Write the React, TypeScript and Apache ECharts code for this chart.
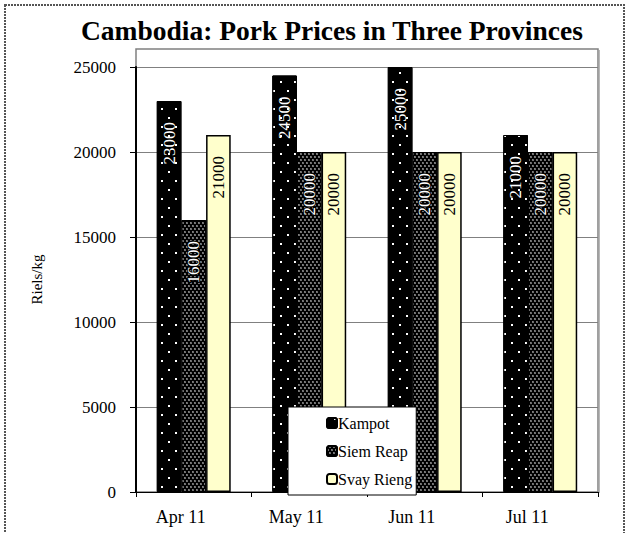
import React, { useEffect, useRef } from "react";
import * as echarts from "echarts";

const categories = ["Apr 11", "May 11", "Jun 11", "Jul 11"];
const kampot = [23000, 24500, 25000, 21000];
const siemReap = [16000, 20000, 20000, 20000];
const svayRieng = [21000, 20000, 20000, 20000];
const seriesNames = ["Kampot", "Siem Reap", "Svay Rieng"];

const FONT = "'Liberation Serif', 'Times New Roman', serif";

export default function App() {
  const ref = useRef<HTMLDivElement>(null);
  useEffect(() => {
    if (!ref.current) return;
    const chart = echarts.init(ref.current, null, { renderer: "svg" });
    const labelBase = {
      show: true,
      position: "insideTop",
      rotate: 90,
      align: "right",
      verticalAlign: "middle",
      distance: 21,
      fontSize: 17,
      fontFamily: FONT,
    };
    chart.setOption({
      animation: false,
      backgroundColor: "#fff",
      textStyle: { fontFamily: FONT, color: "#000" },
      title: {
        text: "Cambodia: Pork Prices in Three Provinces",
        left: 76,
        top: 11,
        textStyle: { fontFamily: FONT, fontSize: 27.5, fontWeight: "bold", color: "#000" },
      },
      grid: { left: 136, right: 31, top: 67, bottom: 41 },
      legend: {
        orient: "vertical",
        left: 288,
        top: 407,
        itemWidth: 10,
        itemHeight: 10,
        itemGap: 12,
        padding: [8, 4, 8, 38],
        backgroundColor: "#fff",
        borderColor: "#000",
        borderWidth: 1,
        textStyle: { fontFamily: FONT, fontSize: 16, color: "#000", padding: [0, 0, 0, -4] },
        data: seriesNames,
      },
      xAxis: {
        type: "category",
        data: categories,
        axisLine: { lineStyle: { color: "#000", width: 1 } },
        axisTick: { show: true, length: 5, lineStyle: { color: "#000" } },
        axisLabel: { fontFamily: FONT, fontSize: 18, color: "#000", margin: 16, padding: [0, 26, 0, 0] },
      },
      yAxis: {
        type: "value",
        min: 0,
        max: 25000,
        interval: 5000,
        name: "Riels/kg",
        nameLocation: "middle",
        nameGap: 92,
        nameRotate: 90,
        nameTextStyle: { fontFamily: FONT, fontSize: 15, color: "#000" },
        axisLine: { show: true, lineStyle: { color: "#000", width: 2 } },
        axisTick: { show: true, length: 6, lineStyle: { color: "#000" } },
        axisLabel: {
          fontFamily: FONT,
          fontSize: 17,
          color: "#000",
          margin: 20,
          formatter: (v: number) => String(v),
        },
        splitLine: { lineStyle: { color: "#808080", width: 1 } },
      },
      graphic: [
        {
          type: "rect",
          z: -1,
          shape: { x: 136, y: 49, width: 462, height: 443 },
          style: { fill: "none", stroke: "#808080", lineWidth: 1.5 },
        },
        {
          type: "line",
          z: -1,
          shape: { x1: 599, y1: 50, x2: 599, y2: 493 },
          style: { stroke: "#a0a0a0", lineWidth: 1.5 },
        },
        {
          type: "rect",
          shape: { x: 5, y: 5, width: 619, height: 540 },
          style: { fill: "none", stroke: "#555", lineWidth: 2, lineDash: [2, 1] },
        },
      ],
      series: [
        {
          name: seriesNames[0],
          type: "bar",
          data: kampot,
          barGap: "0%",
          barCategoryGap: "36%",
          itemStyle: {
            color: "#000",
            borderColor: "#000",
            borderWidth: 1,
            decal: {
              symbol: "rect",
              symbolSize: 1,
              color: "#fff",
              dashArrayX: [[2, 12], [0, 7, 2, 5]],
              dashArrayY: [2, 7],
            },
          },
          label: { ...labelBase, color: "#fff" },
        },
        {
          name: seriesNames[1],
          type: "bar",
          data: siemReap,
          itemStyle: {
            color: "#000",
            borderColor: "#000",
            borderWidth: 1,
            decal: {
              symbol: "circle",
              symbolSize: 0.75,
              color: "#ddd",
              dashArrayX: [[2, 2], [0, 2, 2, 0]],
              dashArrayY: [2, 1],
            },
          },
          label: { ...labelBase, color: "#fff", textBorderColor: "#000", textBorderWidth: 2 },
        },
        {
          name: seriesNames[2],
          type: "bar",
          data: svayRieng,
          itemStyle: { color: "#FFFFCC", borderColor: "#000", borderWidth: 1.5 },
          label: { ...labelBase, color: "#000" },
        },
      ],
    });
    return () => chart.dispose();
  }, []);
  return (
    <div
      ref={ref}
      style={{ position: "fixed", left: 0, top: 0, width: 629, height: 533, background: "#fff" }}
    />
  );
}
